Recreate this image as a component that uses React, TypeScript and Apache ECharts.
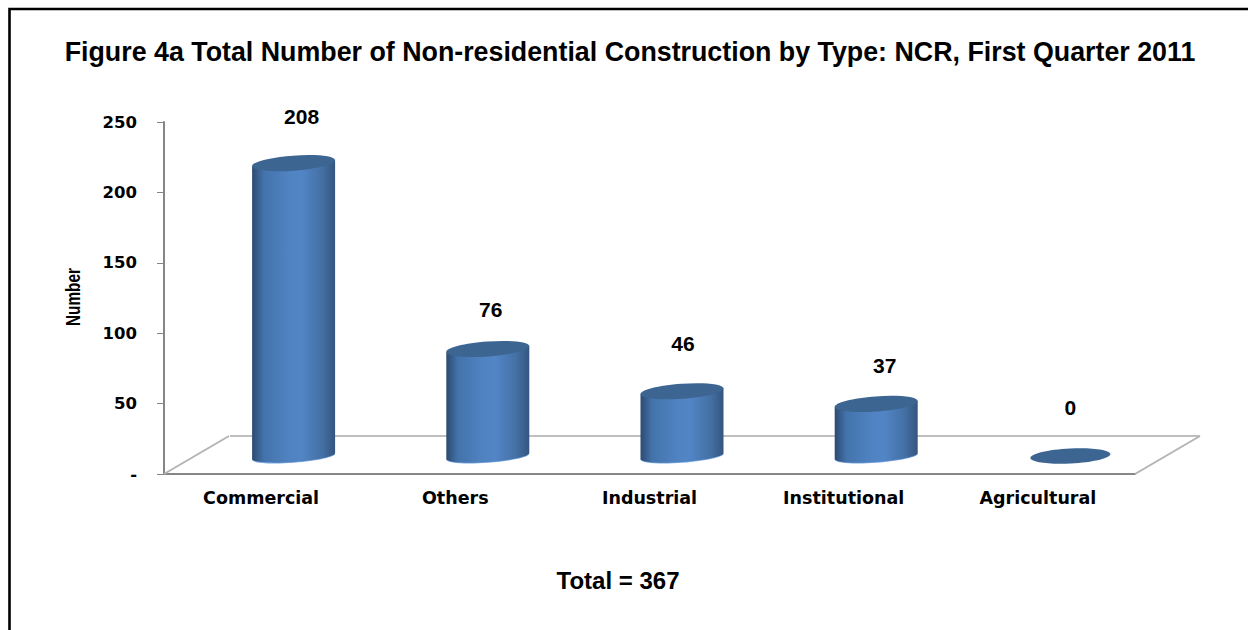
import React, { useEffect, useRef } from "react";
import * as echarts from "echarts";

const titleText = "Figure 4a Total Number of Non-residential Construction by Type: NCR, First Quarter 2011";
const totalText = "Total = 367";
const yAxisName = "Number";
const categories = ["Commercial", "Others", "Industrial", "Institutional", "Agricultural"];
const counts = [208, 76, 46, 37, 0];
const yMax = 250;
const yStep = 50;

// label nudges from each cylinder's top (layout only)
const labelNudgeX = [8, 3, 1, 8.5, 0];
const labelNudgeY = [-47, -39, -48, -38, -49];

const DEPTH_X = 65;
const DEPTH_Y = 38;
const OFFSET_X = 32.5;
const OFFSET_Y = 18;
const TILT = 3;

const K = 0.5523;

function halfEllipse(ctx: any, cx: number, cy: number, r: number, dy: number, ry: number, sign: number) {
  const ux = r, uy = -dy;
  const vx = (sign * ry * dy) / r, vy = sign * ry;
  ctx.bezierCurveTo(cx - ux + K * vx, cy - uy + K * vy, cx + vx - K * ux, cy + vy - K * uy, cx + vx, cy + vy);
  ctx.bezierCurveTo(cx + vx + K * ux, cy + vy + K * uy, cx + ux + K * vx, cy + uy + K * vy, cx + ux, cy + uy);
}

echarts.graphic.registerShape(
  "cylBody",
  echarts.graphic.extendShape({
    shape: { cx: 0, top: 0, base: 0, r: 0, dy: 0, ry: 0 },
    buildPath(ctx: any, s: any) {
      ctx.moveTo(s.cx - s.r, s.top + s.dy);
      ctx.lineTo(s.cx - s.r, s.base + s.dy);
      halfEllipse(ctx, s.cx, s.base, s.r, s.dy, s.ry, 1);
      ctx.lineTo(s.cx + s.r, s.top - s.dy);
      ctx.closePath();
    },
  })
);

echarts.graphic.registerShape(
  "tiltEllipse",
  echarts.graphic.extendShape({
    shape: { cx: 0, cy: 0, r: 0, dy: 0, ry: 0 },
    buildPath(ctx: any, s: any) {
      ctx.moveTo(s.cx - s.r, s.cy + s.dy);
      halfEllipse(ctx, s.cx, s.cy, s.r, s.dy, s.ry, 1);
      const ux = s.r, uy = -s.dy;
      const vx = (-s.ry * s.dy) / s.r, vy = -s.ry;
      ctx.bezierCurveTo(s.cx + ux + K * vx, s.cy + uy + K * vy, s.cx + vx + K * ux, s.cy + vy + K * uy, s.cx + vx, s.cy + vy);
      ctx.bezierCurveTo(s.cx + vx - K * ux, s.cy + vy - K * uy, s.cx - ux + K * vx, s.cy - uy + K * vy, s.cx - ux, s.cy - uy);
      ctx.closePath();
    },
  })
);

const sideGradient = () =>
  new echarts.graphic.LinearGradient(0, 0, 1, 0, [
    { offset: 0, color: "#2d4a70" },
    { offset: 0.14, color: "#4373ab" },
    { offset: 0.45, color: "#5083c2" },
    { offset: 0.6, color: "#5285c5" },
    { offset: 0.85, color: "#436fa3" },
    { offset: 1, color: "#35557f" },
  ]);

export default function App() {
  const ref = useRef<HTMLDivElement>(null);

  useEffect(() => {
    const chart = echarts.init(ref.current!, null, { renderer: "svg" });
    chart.setOption({
      animation: false,
      backgroundColor: "#ffffff",
      title: [
        {
          text: titleText,
          left: 625,
          top: 33,
          textAlign: "center",
          textStyle: { fontFamily: "Liberation Sans", fontWeight: "bold", fontSize: 26.8, color: "#000" },
        },
        {
          text: totalText,
          left: 613,
          top: 563,
          textAlign: "center",
          textStyle: { fontFamily: "Liberation Sans", fontWeight: "bold", fontSize: 24, color: "#000" },
        },
      ],
      graphic: [
        {
          type: "polyline",
          z: 0,
          shape: { points: [[9.5, 640], [9.5, 9], [1260, 9]] },
          style: { stroke: "#000", lineWidth: 2.6, fill: "none" },
        },
        {
          type: "text",
          x: 73,
          y: 297,
          rotation: Math.PI / 2,
          scaleX: 0.73,
          style: {
            text: yAxisName,
            fontFamily: "Liberation Sans",
            fontWeight: "bold",
            fontSize: 21,
            fill: "#000",
            align: "center",
            verticalAlign: "middle",
          },
        },
      ],
      grid: { left: 164, right: 113, top: 122, bottom: 156 },
      xAxis: {
        type: "category",
        data: categories,
        axisLine: { lineStyle: { color: "#868686", width: 2 } },
        axisTick: { show: false },
        axisLabel: {
          margin: 15,
          fontFamily: "DejaVu Sans",
          fontWeight: "bold",
          fontSize: 17.5,
          color: "#000",
        },
      },
      yAxis: {
        type: "value",
        min: 0,
        max: yMax,
        interval: yStep,
        splitLine: { show: false },
        axisLine: { show: true, lineStyle: { color: "#868686", width: 2 } },
        axisTick: { show: true, length: 7, lineStyle: { color: "#868686", width: 1 } },
        axisLabel: {
          margin: 27,
          fontFamily: "DejaVu Sans",
          fontWeight: "bold",
          fontSize: 16.5,
          color: "#000",
          formatter: (v: number) => (v === 0 ? "-" : String(v)),
        },
      },
      series: [
        {
          type: "custom",
          z: 1,
          silent: true,
          data: [[0, 0]],
          encode: { x: 0, y: 1 },
          renderItem: (params: any) => {
            const g = params.coordSys;
            const x0 = g.x, x1 = g.x + g.width, y0 = g.y + g.height;
            const sideStyle = { stroke: "#b4b4b4", lineWidth: 2, fill: "none" };
            return {
              type: "group",
              children: [
                { type: "line", shape: { x1: x0 + DEPTH_X + 1, y1: y0 - DEPTH_Y, x2: x1 + DEPTH_X, y2: y0 - DEPTH_Y }, style: { stroke: "#bfbfbf", lineWidth: 2 } },
                { type: "line", shape: { x1: x0, y1: y0, x2: x0 + DEPTH_X, y2: y0 - DEPTH_Y }, style: sideStyle },
                { type: "line", shape: { x1: x1, y1: y0, x2: x1 + DEPTH_X, y2: y0 - DEPTH_Y }, style: sideStyle },
              ],
            };
          },
        },
        {
          type: "custom",
          z: 3,
          silent: true,
          data: counts.map((v, i) => [i, v]),
          encode: { x: 0, y: 1 },
          renderItem: (params: any, api: any) => {
            const i = api.value(0);
            const v = api.value(1);
            const top = api.coord([i, v]);
            const base = api.coord([i, 0]);
            const band = api.size([1, 0])[0];
            const r = band * 0.2137;
            const cx = top[0] + OFFSET_X;
            const tY = top[1] - OFFSET_Y;
            const bY = base[1] - OFFSET_Y;
            const children: any[] = [];
            if (v > 0) {
              children.push({
                type: "tiltEllipse",
                shape: { cx, cy: bY + 0.8, r, dy: TILT, ry: 6 },
                style: { fill: "#7ba8e2" },
              });
              children.push({
                type: "cylBody",
                shape: { cx, top: tY, base: bY, r, dy: TILT, ry: 6 },
                style: { fill: sideGradient() },
              });
            }
            children.push({
              type: "tiltEllipse",
              shape: { cx, cy: tY, r: v > 0 ? r : r - 1.5, dy: v > 0 ? TILT : 2, ry: 7.5 },
              style: { fill: "#3d6591" },
            });
            children.push({
              type: "text",
              style: {
                x: cx + labelNudgeX[i],
                y: tY + labelNudgeY[i],
                text: String(v),
                fontFamily: "Liberation Sans",
                fontWeight: "bold",
                fontSize: 21,
                fill: "#000",
                align: "center",
                verticalAlign: "middle",
              },
            });
            return { type: "group", children };
          },
        },
      ],
    });
    return () => chart.dispose();
  }, []);

  return <div ref={ref} style={{ position: "absolute", left: 0, top: 0, width: 1248, height: 630 }} />;
}
